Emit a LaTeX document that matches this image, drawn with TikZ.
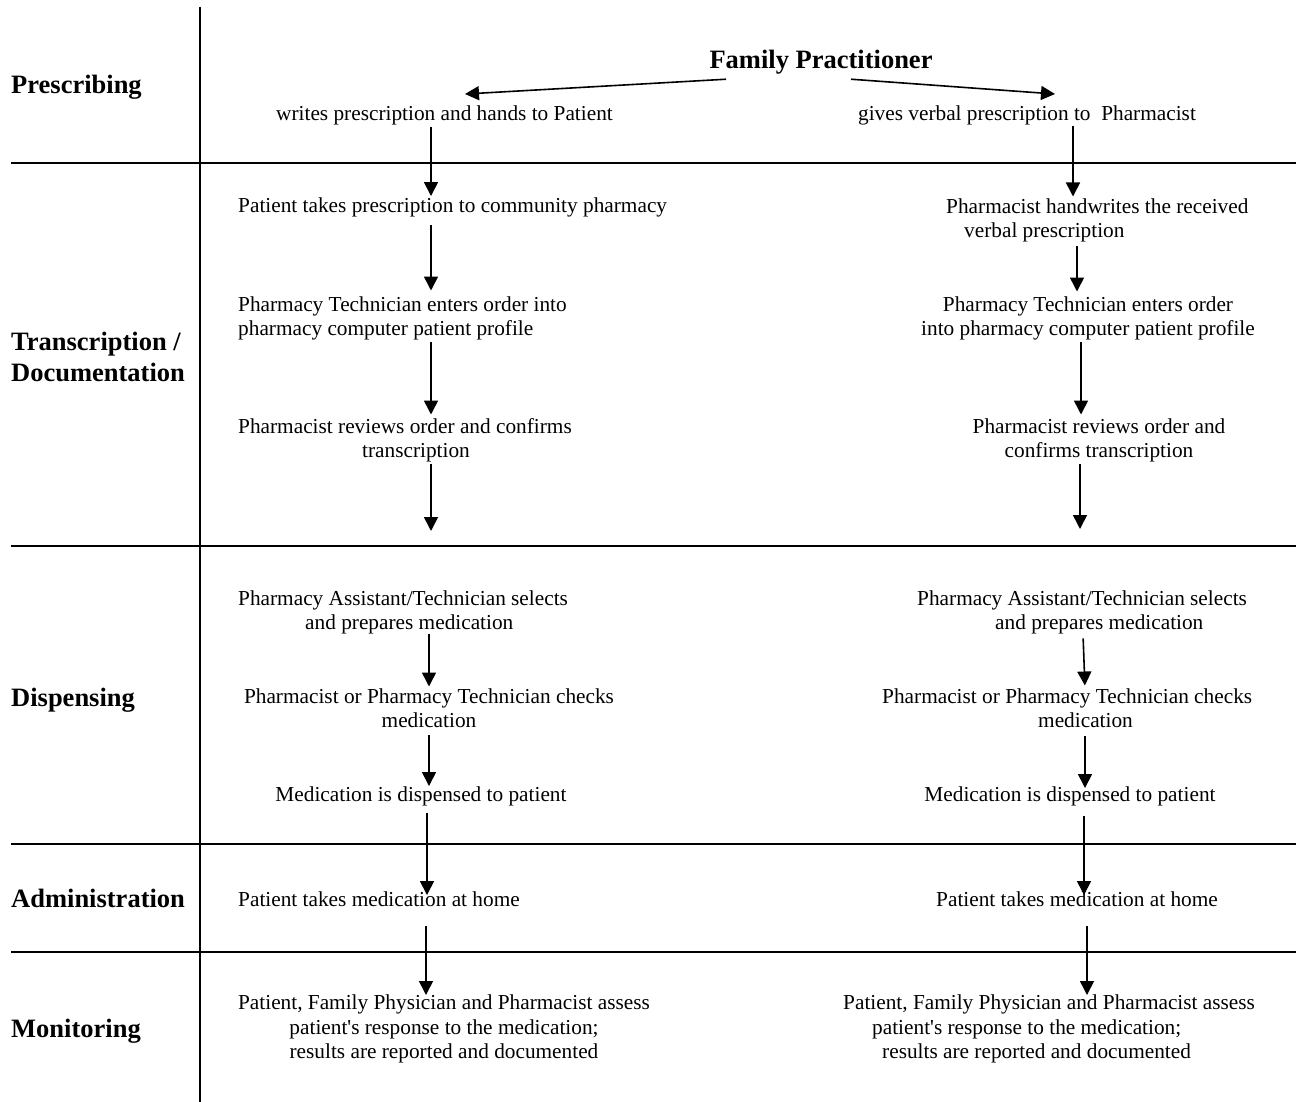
\documentclass[tikz,border=0pt]{standalone}
\usepackage{fontspec}
\setmainfont{Liberation Serif}
\usetikzlibrary{arrows.meta}
\begin{document}
\begin{tikzpicture}[x=1pt,y=-1pt,
  txt/.style={inner sep=0pt, font=\fontsize{21.3}{24.2}\selectfont},
  lab/.style={inner sep=0pt, font=\fontsize{26.5}{31}\selectfont\bfseries},
  arr/.style={line width=1.6pt, -{Triangle[width=14pt,length=14pt]}},
  lane/.style={line width=1.8pt}]
\useasboundingbox (0,0) rectangle (1296,1102);
\fill[white] (0,0) rectangle (1296,1102);

% lanes
\draw[lane] (200,7) -- (200,1102);
\draw[lane] (11,163) -- (1296,163);
\draw[lane] (11,546) -- (1296,546);
\draw[lane] (11,844) -- (1296,844);
\draw[lane] (11,952) -- (1296,952);

% lane labels
\node[lab, anchor=base west] (lPre) at (11,94) {Prescribing};
\node[lab, anchor=north west, align=left] (lTra) at (11,332) {Transcription /\\Documentation};
\node[lab, anchor=base west] (lDis) at (11,706) {Dispensing};
\node[lab, anchor=base west] (lAdm) at (11,907) {Administration};
\node[lab, anchor=base west] (lMon) at (11,1037) {Monitoring};

% top
\node[lab, anchor=base] (FP) at (821,69) {Family Practitioner};
\node[txt, anchor=base] (w1) at (444.5,121) {writes prescription and hands to Patient};
\node[txt, anchor=base] (g1) at (1027,121) {gives verbal prescription to\ \ Pharmacist};

% left column
\node[txt, anchor=base west] (L1) at (238,213) {Patient takes prescription to community pharmacy};
\node[txt, anchor=north west, align=left] (L2) at (238,296.5) {Pharmacy Technician enters order into\\pharmacy computer patient profile};
\node[txt, anchor=north west, align=left] (L3) at (238,418.5) {Pharmacist reviews order and confirms\\\hspace*{124pt}transcription};
\node[txt, anchor=north west, align=left] (L4) at (238,590.5) {Pharmacy Assistant/Technician selects\\\hspace*{67pt}and prepares medication};
\node[txt, anchor=north, align=center] (L5) at (429,688.5) {Pharmacist or Pharmacy Technician checks\\medication};
\node[txt, anchor=base] (L6) at (421,801) {Medication is dispensed to patient};
\node[txt, anchor=base west] (L7) at (238,906) {Patient takes medication at home};
\node[txt, anchor=north, align=center] (L8) at (444,995) {Patient, Family Physician and Pharmacist assess\\patient\textquotesingle s response to the medication;\\results are reported and documented};

% right column
\node[txt, anchor=north west, align=left] (R1) at (946,198.5) {Pharmacist handwrites the received\\\hspace*{18pt}verbal prescription};
\node[txt, anchor=north, align=center] (R2) at (1088,296.5) {Pharmacy Technician enters order\\into pharmacy computer patient profile};
\node[txt, anchor=north, align=center] (R3) at (1099,418.5) {Pharmacist reviews order and\\confirms transcription};
\node[txt, anchor=north west, align=left] (R4) at (917,590.5) {Pharmacy Assistant/Technician selects\\\hspace*{78pt}and prepares medication};
\node[txt, anchor=north west, align=left] (R5) at (882,688.5) {Pharmacist or Pharmacy Technician checks\\\hspace*{156pt}medication};
\node[txt, anchor=base] (R6) at (1070,801) {Medication is dispensed to patient};
\node[txt, anchor=base] (R7) at (1077,906) {Patient takes medication at home};
\node[txt, anchor=north west, align=left] (R8) at (843,995) {Patient, Family Physician and Pharmacist assess\\\hspace*{29pt}patient\textquotesingle s response to the medication;\\\hspace*{39pt}results are reported and documented};

% column x positions and free ends
\coordinate (xa) at (431,0);
\coordinate (xb) at (429,0);
\coordinate (xc) at (427,0);
\coordinate (xd) at (426,0);
\coordinate (ya) at (1073,0);
\coordinate (yb) at (1077,0);
\coordinate (yc) at (1081,0);
\coordinate (yd) at (1080,0);
\coordinate (ye) at (1083,0);
\coordinate (yf) at (1085,0);
\coordinate (yg) at (1084,0);
\coordinate (yh) at (1087,0);
\coordinate (eL) at (431,531);
\coordinate (eR) at (1080,529);

% prescribing arrows
\draw[arr] ([xshift=-95pt,yshift=-4.3pt]FP.south) -- ([xshift=20.5pt,yshift=12pt]w1.north);
\draw[arr] ([xshift=30pt,yshift=-4.3pt]FP.south) -- ([xshift=28pt,yshift=12pt]g1.north);

% left arrows
\draw[arr, shorten <=1pt, shorten >=2pt] (w1.south -| xa) -- (L1.north -| xa);
\draw[arr, shorten <=7pt, shorten >=6pt] (L1.south -| xa) -- (L2.north -| xa);
\draw[arr, shorten <=2pt, shorten >=4pt] (L2.south -| xa) -- (L3.north -| xa);
\draw[arr, shorten <=1pt] (L3.south -| xa) -- (eL);
\draw[arr, shorten >=2pt] (L4.south -| xb) -- (L5.north -| xb);
\draw[arr, shorten <=7pt] (L5.south -| xb) -- (L6.north -| xb);
\draw[arr, shorten <=7pt, shorten >=-4pt] (L6.south -| xc) -- (L7.north -| xc);
\draw[arr, shorten <=20pt] (L7.south -| xd) -- (L8.north -| xd);

% right arrows
\draw[arr, shorten >=2pt] (g1.south -| ya) -- (R1.north -| ya);
\draw[arr, shorten <=4pt, shorten >=5pt] (R1.south -| yb) -- (R2.north -| yb);
\draw[arr, shorten <=2pt, shorten >=4pt] (R2.south -| yc) -- (R3.north -| yc);
\draw[arr, shorten <=2pt] (R3.south -| yd) -- (eR);
\draw[arr, shorten <=4pt, shorten >=3pt] (R4.south -| ye) -- (R5.north -| yf);
\draw[arr, shorten <=8pt, shorten >=-2pt] (R5.south -| yf) -- (R6.north -| yf);
\draw[arr, shorten <=10pt, shorten >=-4pt] (R6.south -| yg) -- (R7.north -| yg);
\draw[arr, shorten <=20pt] (R7.south -| yh) -- (R8.north -| yh);
\end{tikzpicture}
\end{document}
